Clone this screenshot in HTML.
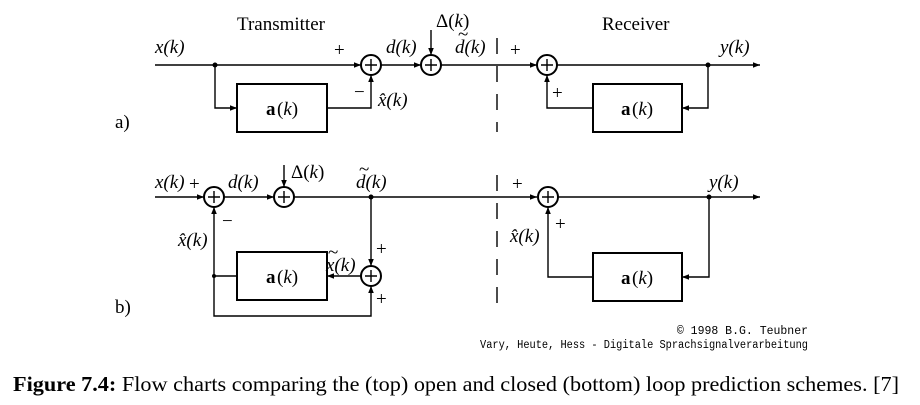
<!DOCTYPE html>
<html><head><style>
body{margin:0;background:#fff;}
svg text{font-family:"Liberation Serif",serif;}
.i{font-style:italic}
</style></head><body>
<svg width="920" height="400" viewBox="0 0 920 400" xmlns="http://www.w3.org/2000/svg">
<defs><marker id="a" viewBox="0 0 10 10" refX="10" refY="5" markerWidth="9" markerHeight="7" orient="auto" markerUnits="userSpaceOnUse"><path d="M0,1L10,5L0,9z" fill="#000"/></marker></defs>
<g stroke="#000" stroke-width="1.4" fill="none">
<line x1="155" y1="65" x2="361" y2="65" marker-end="url(#a)"/>
<line x1="381" y1="65" x2="421" y2="65" marker-end="url(#a)"/>
<line x1="441" y1="65" x2="537" y2="65" marker-end="url(#a)"/>
<line x1="557" y1="65" x2="760" y2="65" marker-end="url(#a)"/>
<polyline points="215,65 215,108 237,108" marker-end="url(#a)"/>
<polyline points="327,108 371,108 371,75" marker-end="url(#a)"/>
<line x1="431" y1="30" x2="431" y2="55" marker-end="url(#a)"/>
<rect x="237" y="84" width="90" height="48" stroke-width="2"/>
<rect x="593" y="84" width="89" height="48" stroke-width="2"/>
<polyline points="708,65 708,108 682,108" marker-end="url(#a)"/>
<polyline points="593,108 547,108 547,75" marker-end="url(#a)"/>
<line x1="155" y1="197" x2="204" y2="197" marker-end="url(#a)"/>
<line x1="224" y1="197" x2="274" y2="197" marker-end="url(#a)"/>
<line x1="294" y1="197" x2="537" y2="197" marker-end="url(#a)"/>
<line x1="557" y1="197" x2="760" y2="197" marker-end="url(#a)"/>
<line x1="284" y1="165" x2="284" y2="187" marker-end="url(#a)"/>
<line x1="371" y1="197" x2="371" y2="266" marker-end="url(#a)"/>
<line x1="361" y1="276" x2="327" y2="276" marker-end="url(#a)"/>
<rect x="237" y="252" width="90" height="48" stroke-width="2"/>
<polyline points="237,276 214,276 214,207" marker-end="url(#a)"/>
<polyline points="214,276 214,316 371,316 371,286" marker-end="url(#a)"/>
<rect x="593" y="253" width="89" height="48" stroke-width="2"/>
<polyline points="709,197 709,277 682,277" marker-end="url(#a)"/>
<polyline points="593,277 548,277 548,207" marker-end="url(#a)"/>
<line x1="497" y1="38" x2="497" y2="132" stroke-dasharray="16,12"/>
<line x1="497" y1="175" x2="497" y2="312" stroke-dasharray="16,12"/>
</g>
<g fill="#000">
<circle cx="215" cy="65" r="2.5"/><circle cx="371" cy="197" r="2.5"/><circle cx="708" cy="65" r="2.5"/>
<circle cx="709" cy="197" r="2.5"/><circle cx="214" cy="276" r="2"/>
</g>
<g stroke="#000" stroke-width="2" fill="#fff">
<circle cx="371" cy="65" r="10"/><circle cx="431" cy="65" r="10"/><circle cx="547" cy="65" r="10"/>
<circle cx="214" cy="197" r="10"/><circle cx="284" cy="197" r="10"/><circle cx="371" cy="276" r="10"/><circle cx="548" cy="197" r="10"/>
</g>
<g stroke="#000" stroke-width="1.4">
<path d="M365,65h12M371,59v12M425,65h12M431,59v12M541,65h12M547,59v12M208,197h12M214,191v12M278,197h12M284,191v12M365,276h12M371,270v12M542,197h12M548,191v12"/>
</g>
<g font-size="19">
<text x="237" y="30">Transmitter</text>
<text x="602" y="30">Receiver</text>
<text x="155" y="53" class="i">x(k)</text>
<text x="334" y="56">+</text>
<text x="386" y="53" class="i">d(k)</text>
<text x="436" y="27">Δ(<tspan class="i">k</tspan>)</text>
<text x="455" y="53" class="i">d(k)</text><text x="458" y="40">~</text>
<text x="510" y="56">+</text>
<text x="720" y="53" class="i">y(k)</text>
<text x="354" y="98">−</text>
<text x="378" y="106" class="i">x̂(k)</text>
<text x="266" y="115" font-weight="bold">a</text><text x="277" y="115">(<tspan class="i">k</tspan>)</text>
<text x="621" y="115" font-weight="bold">a</text><text x="632" y="115">(<tspan class="i">k</tspan>)</text>
<text x="552" y="99">+</text>
<text x="115" y="128">a)</text>
<text x="155" y="188" class="i">x(k)</text><text x="189" y="190">+</text>
<text x="228" y="188" class="i">d(k)</text>
<text x="291" y="178">Δ(<tspan class="i">k</tspan>)</text>
<text x="356" y="188" class="i">d(k)</text><text x="359" y="175">~</text>
<text x="512" y="190">+</text>
<text x="709" y="188" class="i">y(k)</text>
<text x="222" y="227">−</text>
<text x="178" y="246" class="i">x̂(k)</text>
<text x="376" y="255">+</text>
<text x="326" y="271" class="i">x(k)</text><text x="328" y="258">~</text>
<text x="376" y="305">+</text>
<text x="266" y="283" font-weight="bold">a</text><text x="277" y="283">(<tspan class="i">k</tspan>)</text>
<text x="621" y="284" font-weight="bold">a</text><text x="632" y="284">(<tspan class="i">k</tspan>)</text>
<text x="510" y="242" class="i">x̂(k)</text>
<text x="555" y="230">+</text>
<text x="115" y="313">b)</text>
</g>
<g font-size="11.5">
<text x="808" y="334" text-anchor="end" style="font-family:'Liberation Mono',monospace">© 1998 B.G. Teubner</text>
<text x="808" y="348" text-anchor="end" style="font-family:'Liberation Mono',monospace" textLength="328" lengthAdjust="spacingAndGlyphs">Vary, Heute, Hess - Digitale Sprachsignalverarbeitung</text>
</g>
<text x="13" y="391" font-size="21" textLength="886" lengthAdjust="spacingAndGlyphs"><tspan font-weight="bold">Figure 7.4:</tspan> Flow charts comparing the (top) open and closed (bottom) loop prediction schemes. [7]</text>
</svg>
</body></html>
